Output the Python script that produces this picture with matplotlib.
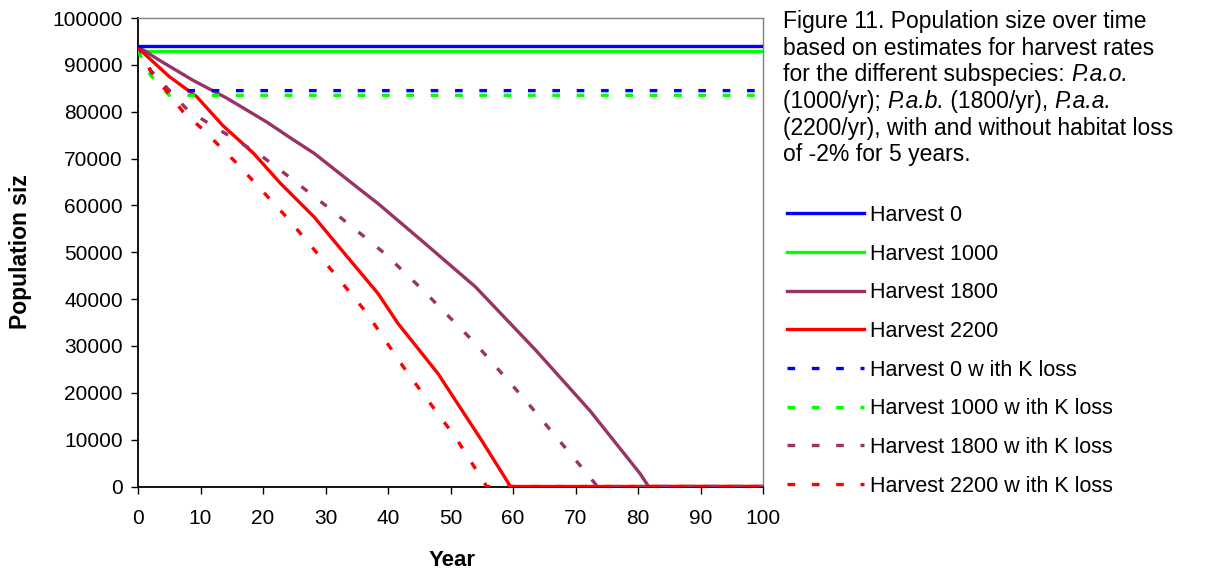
import matplotlib.pyplot as plt

plt.rcParams['font.family'] = ['Liberation Sans', 'DejaVu Sans']

# data (years, population size)
yr_flat = [0, 100]
h0 = [94000, 94000]
h1000 = [93000, 93000]

yr_k = [0, 2, 5, 100]
h0_k = [94000, 88800, 84500, 84500]
h1000_k = [93000, 87800, 83500, 83500]

yr_1800 = [0, 3.4, 8.8, 14.2, 20.6, 24.4, 28.2, 35.7, 38.4, 45.9, 54, 63.7, 72.3, 80.3, 81.7, 100]
h1800 = [93900, 91000, 86700, 82900, 77800, 74400, 71100, 63200, 60400, 51900, 42600, 29000, 16200, 2800, 0, 0]

yr_2200 = [0, 5, 9.4, 13.6, 18.5, 22.8, 28.2, 33.5, 38.4, 41.6, 48, 55, 59.6, 100]
h2200 = [93600, 87500, 83200, 77000, 71100, 64700, 57500, 49000, 41200, 34800, 24100, 9800, 0, 0]

yr_1800_k = [0, 2.1, 8, 11.8, 15.8, 19.6, 23.1, 30, 36.5, 39.5, 45.6, 54, 62, 69.6, 72.3, 73.5, 100]
h1800_k = [94000, 88500, 80300, 77100, 73900, 70700, 67200, 60000, 53000, 49700, 41900, 30500, 18400, 6300, 2000, 0, 0]

yr_2200_k = [0, 2.1, 7.2, 10.3, 15.8, 23.9, 31.4, 36.5, 43.2, 50.8, 55.8, 100]
h2200_k = [94000, 88500, 80000, 76300, 69000, 57300, 45500, 37200, 24100, 10500, 0, 0]

blue, green, purple, red = '#0000FF', '#00FF00', '#993366', '#FF0000'
lw = 2.4
dash = (2.3, 5.0)

W, H = 1231, 573
fig = plt.figure(figsize=(W / 100, H / 100), dpi=100)
ax = fig.add_axes([138 / W, 1 - 486.5 / H, 625 / W, 468.5 / H])

ax.plot(yr_flat, h1000, color=green, lw=lw, label='Harvest 1000', zorder=3)
ax.plot(yr_flat, h0, color=blue, lw=lw, label='Harvest 0', zorder=4)
ax.plot(yr_1800, h1800, color=purple, lw=lw, label='Harvest 1800', zorder=3)
ax.plot(yr_2200, h2200, color=red, lw=lw, label='Harvest 2200', zorder=3)
ax.plot(yr_k, h0_k, color=blue, lw=lw, dashes=dash, label='Harvest 0 w ith K loss', zorder=3)
ax.plot(yr_k, h1000_k, color=green, lw=lw, dashes=dash, label='Harvest 1000 w ith K loss', zorder=3)
ax.plot(yr_1800_k, h1800_k, color=purple, lw=lw, dashes=dash, label='Harvest 1800 w ith K loss', zorder=3)
ax.plot(yr_2200_k, h2200_k, color=red, lw=lw, dashes=dash, label='Harvest 2200 w ith K loss', zorder=3)

ax.set_xlim(0, 100)
ax.set_ylim(0, 100000)
ax.set_xticks(range(0, 101, 10))
ax.set_yticks(range(0, 100001, 10000))
ax.tick_params(labelsize=15, length=5, width=1, direction='out')
ax.tick_params(axis='x', pad=11)
ax.tick_params(axis='y', pad=6)
for s in ['top', 'right']:
    ax.spines[s].set_color('#808080')
    ax.spines[s].set_linewidth(1)
for s in ['left', 'bottom']:
    ax.spines[s].set_linewidth(1.3)

fig.text(21 / W, 1 - 252 / H, 'Population siz', rotation=90, fontsize=16.5,
         fontweight='bold', ha='center', va='center')
fig.text(452 / W, 1 - 561 / H, 'Year', fontsize=16, fontweight='bold',
         ha='center', va='center')

# caption, with the subspecies names in italics
caption = [
    [('Figure 11. Population size over time', 'normal')],
    [('based on estimates for harvest rates', 'normal')],
    [('for the different subspecies: ', 'normal'), ('P.a.o.', 'italic')],
    [('(1000/yr); ', 'normal'), ('P.a.b.', 'italic'), (' (1800/yr), ', 'normal'), ('P.a.a.', 'italic')],
    [('(2200/yr), with and without habitat loss', 'normal')],
    [('of -2% for 5 years.', 'normal')],
]
renderer = fig.canvas.get_renderer()
for i, parts in enumerate(caption):
    x = 783 / W
    y = 1 - (28 + i * 26.7) / H
    for txt, st in parts:
        t = fig.text(x, y, txt, fontsize=16.5, style=st, ha='left', va='baseline')
        x += t.get_window_extent(renderer).width / W

handles, labels = ax.get_legend_handles_labels()
order = ['Harvest 0', 'Harvest 1000', 'Harvest 1800', 'Harvest 2200',
         'Harvest 0 w ith K loss', 'Harvest 1000 w ith K loss',
         'Harvest 1800 w ith K loss', 'Harvest 2200 w ith K loss']
hmap = dict(zip(labels, handles))
fig.legend([hmap[l] for l in order], order, loc='upper left',
           bbox_to_anchor=(787 / W, 1 - 205 / H), frameon=False,
           fontsize=15.5, handlelength=3.58, handletextpad=0.28,
           labelspacing=0.82, borderpad=0, borderaxespad=0)

fig.savefig('out.png', dpi=100)
